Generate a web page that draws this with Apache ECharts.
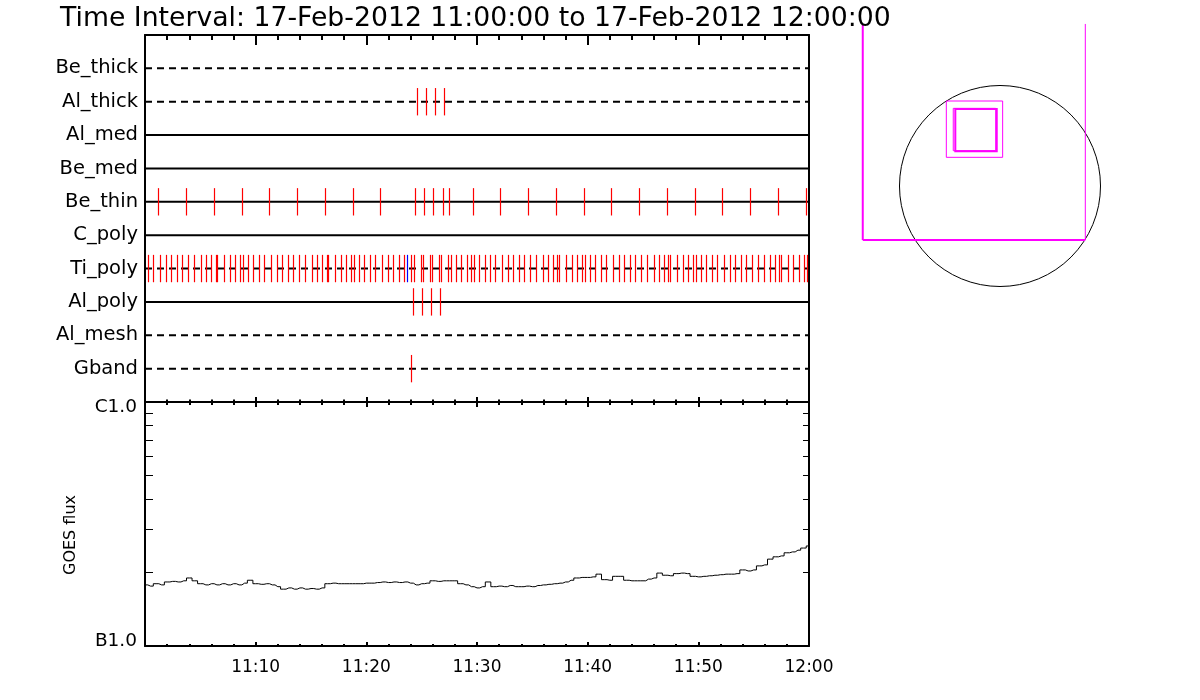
<!DOCTYPE html>
<html><head><meta charset="utf-8">
<script src="https://cdn.jsdelivr.net/npm/echarts@6/dist/echarts.min.js"></script>
<style>html,body{margin:0;padding:0;background:#fff}#c{width:1200px;height:700px}</style>
</head><body><div id="c"></div>
<script>
// ---------------- data ----------------
const titleText = 'Time Interval: 17-Feb-2012 11:00:00 to 17-Feb-2012 12:00:00';
const startHour = 11;
const rowNames = ['Be_thick','Al_thick','Al_med','Be_med','Be_thin','C_poly','Ti_poly','Al_poly','Al_mesh','Gband'];
const rowDashed = [true, true, false, false, false, false, true, false, true, true];

// event times, minutes after 11:00
const alThickTimes = [24.61, 25.42, 26.23, 27.04];
const beThinTimes = [1.20, 3.73, 6.26, 8.79, 11.23, 13.76, 16.29, 18.82, 21.27, 24.42, 25.24, 26.05, 26.95, 27.50,
  29.67, 32.11, 34.64, 37.17, 39.70, 42.14, 44.67, 47.20, 49.73, 52.17, 54.70, 57.23, 59.76];
const tiPolyTimes = [0.30, 0.75, 1.38, 1.92, 2.38, 2.92, 3.37, 3.91, 4.45, 5.09, 5.54, 5.99, 6.44, 6.53, 7.17, 7.71,
  8.16, 8.61, 8.88, 9.33, 9.79, 10.33, 10.78, 11.41, 11.95, 12.41, 12.95, 13.40, 13.94, 14.49, 15.12, 15.57, 16.02,
  16.47, 16.56, 17.20, 17.74, 18.19, 18.64, 18.91, 19.36, 19.82, 20.36, 20.81, 21.44, 21.98, 22.44, 22.98, 23.43,
  24.06, 24.33, 24.97, 25.15, 25.78, 25.96, 26.59, 26.77, 27.41, 27.68, 28.13, 28.58, 29.13, 29.49, 29.76, 30.21,
  30.75, 31.20, 31.65, 32.29, 32.83, 33.28, 33.82, 34.27, 34.82, 35.36, 35.99, 36.44, 36.89, 37.26, 37.44, 38.07,
  38.61, 39.06, 39.51, 39.79, 40.24, 40.69, 41.23, 41.68, 42.32, 42.86, 43.31, 43.85, 44.30, 44.85, 45.39, 46.02,
  46.47, 46.92, 47.29, 47.47, 48.10, 48.64, 49.09, 49.54, 49.82, 50.27, 50.72, 51.26, 51.71, 52.35, 52.89, 53.34,
  53.88, 54.33, 54.88, 55.42, 55.96, 56.50, 56.95, 57.31, 57.50, 58.13, 58.58, 59.12, 59.57, 59.85];
const tiPolyBlueTimes = [23.70];
const alPolyTimes = [24.24, 25.06, 25.87, 26.68];
const gbandTimes = [24.06];

// GOES flux, units of 1e-7 W/m^2, one value every 30 s from 11:00:00
const goesCadenceMin = 0.5;
const goesFlux = [1.78,1.76,1.80,1.78,1.83,1.84,1.83,1.85,1.90,1.85,1.80,1.78,1.80,1.78,1.80,1.78,1.80,1.78,1.81,1.86,
  1.80,1.79,1.80,1.78,1.75,1.71,1.73,1.71,1.73,1.71,1.72,1.71,1.73,1.80,1.81,1.80,1.80,1.80,1.80,1.80,
  1.81,1.81,1.82,1.83,1.82,1.83,1.82,1.83,1.81,1.78,1.80,1.81,1.85,1.84,1.85,1.85,1.85,1.80,1.78,1.75,
  1.73,1.75,1.83,1.75,1.76,1.75,1.77,1.75,1.75,1.76,1.75,1.77,1.78,1.79,1.80,1.81,1.83,1.86,1.90,1.91,
  1.91,1.92,1.97,1.87,1.86,1.93,1.93,1.86,1.85,1.85,1.85,1.88,1.90,1.99,1.95,1.94,1.98,1.99,1.98,1.93,
  1.92,1.93,1.94,1.95,1.96,1.97,1.97,1.98,2.05,2.03,2.05,2.13,2.15,2.27,2.32,2.34,2.41,2.43,2.47,2.52,2.57];
const fluxTickValues = [1,2,3,4,5,6,7,8,9,10];
const fluxLabels = {1: 'B1.0', 10: 'C1.0'};

// inset: solar disk and pointing boxes, arcsec
const sunDisk = [[0, 0, 985]];
const bigFov = [[-1345, -529, 836, 1588]];
const smallBoxes = [[-526, 281, 26, 833], [-458, 346, -42, 761], [-438, 340, -32, 755]];

// ---------------- chart ----------------
const FONT = 'DejaVu Sans';
const K = '#000';
const axLine = {show: true, onZero: false, lineStyle: {color: K, width: 2}};
function timeLabel(v) {
  if (v === 0) return '';
  const h = startHour + Math.floor(v / 60), m = Math.round(v % 60);
  return h + ':' + String(m).padStart(2, '0');
}
function xAx(grid, pos, len, minorLen, labels) {
  return {
    gridIndex: grid, type: 'value', min: 0, max: 60, interval: 10, position: pos,
    axisLine: axLine,
    axisTick: {show: true, inside: true, length: len, lineStyle: {color: K, width: 2}},
    minorTick: {show: true, splitNumber: 5, length: minorLen, lineStyle: {color: K, width: 2}},
    axisLabel: labels ? {show: true, formatter: timeLabel, color: K, fontSize: 17, fontFamily: FONT, margin: 13} : {show: false},
    splitLine: {show: false}, minorSplitLine: {show: false}
  };
}
function logAx(pos, len, withLabels) {
  return {
    gridIndex: 1, type: 'log', logBase: 10, min: 1, max: 10, position: pos,
    axisLine: axLine,
    axisTick: {show: true, inside: true, length: len, customValues: fluxTickValues, lineStyle: {color: K, width: 1}},
    axisLabel: withLabels ? {show: true, formatter: v => fluxLabels[Math.round(v)] || '', color: K, fontSize: 18.5, fontFamily: FONT, margin: 8,
      lineHeight: 10, verticalAlignMinLabel: 'bottom', verticalAlignMaxLabel: 'top'} : {show: false},
    splitLine: {show: false},
    name: withLabels ? 'GOES flux' : '', nameLocation: 'middle', nameGap: 66,
    nameTextStyle: {color: K, fontSize: 16, fontFamily: FONT, padding: [0, 22, 0, 0]}
  };
}

const series = [];
rowNames.forEach((name, i) => {
  series.push({
    type: 'line', xAxisIndex: 0, yAxisIndex: 0, symbol: 'none', silent: true, z: 2,
    data: [[0, i + 1], [60, i + 1]],
    lineStyle: {color: K, width: 2, type: rowDashed[i] ? [7, 5] : 'solid'}
  });
});
function markItem(params, api) {
  const t = api.value(0), r = api.value(1);
  const p1 = api.coord([t, r - 0.41]), p2 = api.coord([t, r + 0.41]);
  const x = Math.round(p1[0]) + 0.5;
  return {type: 'line', shape: {x1: x, y1: p1[1], x2: x, y2: p2[1]}, style: {stroke: api.visual('color'), lineWidth: 1.2}};
}
[
  ['Al_thick', alThickTimes, '#ff0000'],
  ['Be_thin', beThinTimes, '#ff0000'],
  ['Ti_poly', tiPolyTimes, '#ff0000'],
  ['Ti_poly', tiPolyBlueTimes, '#0000ff'],
  ['Al_poly', alPolyTimes, '#ff0000'],
  ['Gband', gbandTimes, '#ff0000']
].forEach(([row, times, color]) => {
  const r = rowNames.indexOf(row) + 1;
  series.push({
    type: 'custom', xAxisIndex: 0, yAxisIndex: 0, z: 5, silent: true,
    itemStyle: {color: color}, encode: {x: 0, y: 1},
    data: times.map(t => [t, r]), renderItem: markItem
  });
});
series.push({
  type: 'line', xAxisIndex: 3, yAxisIndex: 2, symbol: 'none', silent: true, step: 'middle',
  lineStyle: {color: K, width: 1},
  data: goesFlux.map((v, i) => [i * goesCadenceMin, v])
});
// inset
series.push({
  type: 'custom', xAxisIndex: 4, yAxisIndex: 4, silent: true, data: sunDisk,
  renderItem: (p, api) => {
    const c = api.coord([api.value(0), api.value(1)]);
    const r = api.size([api.value(2), 0])[0];
    return {type: 'circle', shape: {cx: c[0], cy: c[1], r: r}, style: {fill: 'none', stroke: K, lineWidth: 1}};
  }
});
series.push({
  type: 'custom', xAxisIndex: 4, yAxisIndex: 4, silent: true, data: bigFov,
  renderItem: (p, api) => {
    const a = api.coord([api.value(0), api.value(1)]), b = api.coord([api.value(2), api.value(3)]);
    const st = w => ({fill: 'none', stroke: '#ff00ff', lineWidth: w});
    return {type: 'group', children: [
      {type: 'line', shape: {x1: a[0], y1: b[1], x2: a[0], y2: a[1]}, style: st(2)},
      {type: 'line', shape: {x1: a[0], y1: a[1], x2: b[0], y2: a[1]}, style: st(2)},
      {type: 'line', shape: {x1: b[0], y1: a[1], x2: b[0], y2: b[1]}, style: st(1)}
    ]};
  }
});
const boxWidths = [1, 1, 2];
series.push({
  type: 'custom', xAxisIndex: 4, yAxisIndex: 4, silent: true, data: smallBoxes,
  renderItem: (p, api) => {
    const a = api.coord([api.value(0), api.value(1)]), b = api.coord([api.value(2), api.value(3)]);
    return {type: 'rect', shape: {x: Math.min(a[0], b[0]), y: Math.min(a[1], b[1]), width: Math.abs(b[0] - a[0]), height: Math.abs(b[1] - a[1])},
      style: {fill: 'none', stroke: '#ff00ff', lineWidth: boxWidths[p.dataIndex]}};
  }
});

// inset frame: 9.8 arcsec per px, disk centre at px (1000,186)
const insetScale = 9.8, insetCx = 1000, insetCy = 186;
const insetGrid = {left: 850, top: 20, width: 260, height: 280};

const option = {
  backgroundColor: '#fff',
  animation: false,
  title: {text: titleText, left: 55, top: 1, textStyle: {color: K, fontSize: 26.7, fontWeight: 'normal', fontFamily: FONT}},
  grid: [
    {left: 145, top: 35, width: 664, height: 367},
    {left: 145, top: 402, width: 664, height: 244},
    insetGrid
  ],
  xAxis: [
    xAx(0, 'bottom', 5, 2.5, false),
    xAx(0, 'top', 10, 5, false),
    xAx(1, 'top', 5, 3, false),
    xAx(1, 'bottom', 4, 2, true),
    {gridIndex: 2, type: 'value', show: false,
      min: (insetGrid.left - insetCx) * insetScale, max: (insetGrid.left + insetGrid.width - insetCx) * insetScale}
  ],
  yAxis: [
    {gridIndex: 0, type: 'value', min: 0, max: 11, interval: 1, inverse: true, position: 'left',
      axisLine: axLine, axisTick: {show: false}, splitLine: {show: false},
      axisLabel: {formatter: v => rowNames[v - 1] || '', color: K, fontSize: 19.5, fontFamily: FONT, margin: 7, padding: [3, 0, 0, 0]}},
    {gridIndex: 0, type: 'value', min: 0, max: 11, position: 'right',
      axisLine: axLine, axisTick: {show: false}, axisLabel: {show: false}, splitLine: {show: false}},
    logAx('left', 8, true),
    logAx('right', 6, false),
    {gridIndex: 2, type: 'value', show: false,
      min: (insetCy - insetGrid.top - insetGrid.height) * insetScale, max: (insetCy - insetGrid.top) * insetScale}
  ],
  series: series
};
const chart = echarts.init(document.getElementById('c'));
chart.setOption(option);
</script>
</body></html>
